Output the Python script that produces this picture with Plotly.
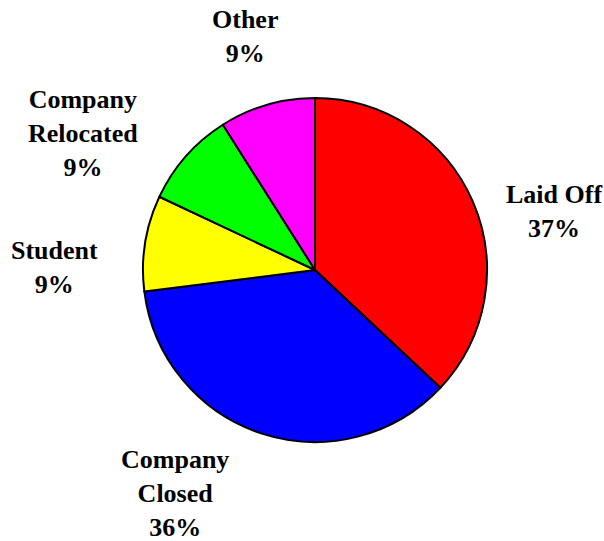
import plotly.graph_objects as go

labels = ["Laid Off", "Company Closed", "Student", "Company Relocated", "Other"]
label_lines = [["Laid Off"], ["Company", "Closed"], ["Student"], ["Company", "Relocated"], ["Other"]]
values = [37, 36, 9, 9, 9]
colors = ["#FF0000", "#0000FF", "#FFFF00", "#00FF00", "#FF00FF"]

# layout in page pixels
W, H = 604, 541
cx, cy, r = 315, 270, 172
label_centers = [(554, 211), (175, 493), (55, 267), (83, 133), (245, 37)]

fig = go.Figure(go.Pie(
    labels=labels,
    values=values,
    sort=False,
    direction="clockwise",
    rotation=0,
    marker=dict(colors=colors, line=dict(color="black", width=2)),
    textinfo="none",
    showlegend=False,
    hoverinfo="label+percent",
    domain=dict(x=[(cx - r) / W, (cx + r) / W], y=[1 - (cy + r) / H, 1 - (cy - r) / H]),
))

total = sum(values)
annotations = []
for lines, v, (px, py) in zip(label_lines, values, label_centers):
    txt = "<br>".join(f"<b>{t}</b>" for t in lines + [f"{round(100 * v / total)}%"])
    annotations.append(dict(
        text=txt, x=px / W, y=1 - py / H, xref="paper", yref="paper",
        xanchor="center", yanchor="middle", showarrow=False, align="center",
        borderpad=0,
        font=dict(family="Liberation Serif", size=26, color="black"),
    ))

fig.update_layout(
    width=W, height=H,
    margin=dict(l=0, r=0, t=0, b=0),
    paper_bgcolor="white",
    font=dict(family="Liberation Serif", size=26, color="black"),
    annotations=annotations,
)
fig.write_html(
    "out.html",
    config={"displayModeBar": False},
    post_script="document.body.style.margin='0';document.body.style.overflow='hidden';",
)
